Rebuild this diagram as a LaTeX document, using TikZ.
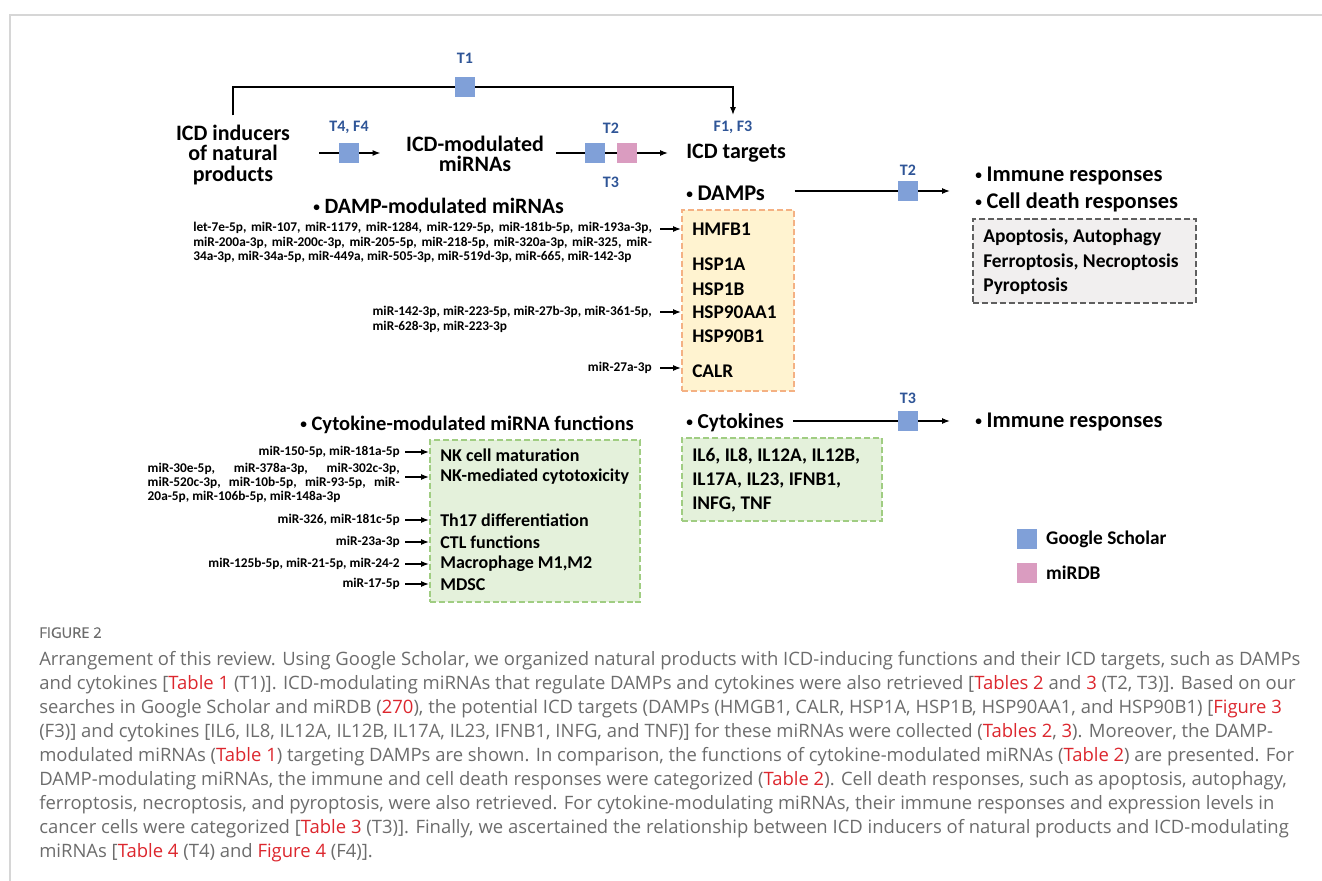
\documentclass[tikz,border=0pt]{standalone}
\usepackage{fontspec}
\setmainfont{Carlito}
\newfontfamily\capfont{Open Sans}
\newfontfamily\capttlfont[FakeBold=0.6]{Open Sans}
\usetikzlibrary{arrows.meta,positioning}
\setlength{\parindent}{0pt}

\definecolor{gsblue}{RGB}{128,160,216}
\definecolor{dbpink}{RGB}{218,156,192}
\definecolor{tblue}{RGB}{47,85,151}
\definecolor{dampdash}{RGB}{244,177,131}
\definecolor{dampfill}{RGB}{255,243,208}
\definecolor{cytodash}{RGB}{160,205,130}
\definecolor{cytofill}{RGB}{228,241,219}
\definecolor{celldash}{RGB}{95,95,95}
\definecolor{cellfill}{RGB}{241,239,239}
\definecolor{capgray}{RGB}{108,108,108}
\definecolor{linkred}{RGB}{220,38,45}
\definecolor{framegray}{RGB}{214,214,214}

\newcommand{\lnk}[1]{\textcolor{linkred}{#1}}
\newcommand{\bul}{\raisebox{1.4pt}{\fontsize{10}{10}\selectfont •}\hspace{3.5pt}}

\begin{document}
\begin{tikzpicture}[x=0.75pt, y=-0.75pt,
		head/.style={font=\bfseries\fontsize{16.5}{15.5}\selectfont, align=center, inner sep=0pt},
		subhead/.style={font=\bfseries\fontsize{#1}{20.25}\selectfont, anchor=west, align=left, inner sep=0pt},
		subhead/.default=15.75,
		item/.style={font=\bfseries\fontsize{14.5}{18}\selectfont, anchor=west, inner sep=0pt},
		func/.style={item, font=\bfseries\fontsize{13.5}{18}\selectfont},
		mirna/.style={font=\bfseries\fontsize{10}{11}\selectfont, inner sep=0pt},
		tlabel/.style={font=\bfseries\fontsize{12}{14}\selectfont, text=tblue, inner sep=0pt},
		gsq/.style={fill=gsblue, minimum size=14.5pt, inner sep=0pt},
		dbsq/.style={gsq, fill=dbpink},
		line/.style={line width=1.1pt},
		conn/.style={line, -{Latex[length=6pt, width=4.6pt]}},
		dashbox/.style={dash pattern=on 4.5pt off 2.2pt, line width=1.5pt, inner sep=0pt},
		dampbox/.style={dashbox, draw=dampdash, fill=dampfill},
		cytobox/.style={dashbox, draw=cytodash, fill=cytofill},
		cellbox/.style={dashbox, draw=celldash, fill=cellfill},
		legtext/.style={font=\bfseries\fontsize{14.5}{16}\selectfont, inner sep=0pt},
		capttl/.style={anchor=north west, inner sep=0pt, text=capgray, font=\capttlfont\fontsize{11}{13}\selectfont},
		captxt/.style={capttl, align=left, font=\capfont\fontsize{13.85}{18}\selectfont},
	]
		\useasboundingbox (0,0) rectangle (1322,881);
		\draw[framegray, line width=1.5pt] (1322,15) -| (10,881);
		
		% stages
		\node[head] (inducers) at (233,155) {ICD inducers\\of natural\\products};
		\node[head] (modmir) at (475,154) {ICD-modulated\\miRNAs};
		\node[head, anchor=west] (targets) at (686,153) {ICD targets};
		\node[tlabel] (f13) at (733,127) {F1, F3};
		
		\node[gsq] (t1sq) at (465,87) {};
		\node[tlabel] (t1) at (465,58) {T1};
		\draw[line, shorten <=7pt] (inducers.north) |- (t1sq);
		\draw[conn, shorten >=4pt] (t1sq) -| (f13.north);
		
		\node[gsq] (t4sq) at (349,153) {};
		\node[tlabel] (t4f4) at (349,127) {T4, F4};
		\draw[line, shorten <=21.75pt] (inducers.east |- t4sq) -- (t4sq);
		\draw[conn, shorten >=19pt] (t4sq) -- (modmir.west |- t4sq);
		
		\node[gsq] (t2sq) at (595,153) {};
		\node[dbsq] (t3sq) at (627,153) {};
		\node[tlabel] (t2) at (611,128) {T2};
		\node[tlabel] (t3) at (611,182) {T3};
		\draw[line, shorten <=9pt] (modmir.east |- t2sq) -- (t2sq);
		\draw[line] (t2sq) -- (t3sq);
		\draw[conn, shorten >=13.5pt] (t3sq) -- (targets.west |- t3sq);
		
		% DAMPs
		\node[subhead=16.4] (dampmir) at (313,206) {\bul DAMP-modulated miRNAs};
		\node[subhead=16.8] (damps) at (686,193) {\bul DAMPs};
		\node[subhead=16.8] (resp) at (975,189.5) {\bul Immune responses\\\bul Cell death responses};
		\node[gsq] (t2sqb) at (908,191) {};
		\node[tlabel] (t2b) at (908,170) {T2};
		\draw[line, shorten <=22pt] (damps.east |- t2sqb) -- (t2sqb);
		\draw[conn, shorten >=18.75pt] (t2sqb) -- (resp.west |- t2sqb);
		
		\node[cellbox, minimum width=167.25pt, minimum height=63pt] (cellbox) at (1084.5,261) {};
		\node[item, align=left, font=\bfseries\fontsize{14.6}{18.4}\selectfont] (celltxt) at (983,262) {Apoptosis, Autophagy\\Ferroptosis, Necroptosis\\Pyroptosis};
		
		\node[dampbox, minimum width=84pt, minimum height=135.75pt] (dampbox) at (738,300.5) {};
		\node[item] (hmfb1) at (692,229) {HMFB1};
		\node[item] (hsp1a) at (692,264) {HSP1A};
		\node[item] (hsp1b) at (692,289) {HSP1B};
		\node[item] (hsp90aa1) at (692,312) {HSP90AA1};
		\node[item] (hsp90b1) at (692,336) {HSP90B1};
		\node[item] (calr) at (692,371) {CALR};
		
		\node[mirna, anchor=north west, text width=344pt, align=justify] (mirdamp1) at (193,222) {let-7e-5p, miR-107, miR-1179, miR-1284, miR-129-5p, miR-181b-5p, miR-193a-3p,\linebreak miR-200a-3p, miR-200c-3p, miR-205-5p, miR-218-5p, miR-320a-3p, miR-325, miR-\linebreak 34a-3p, miR-34a-5p, miR-449a, miR-505-3p, miR-519d-3p, miR-665, miR-142-3p};
		\node[mirna, anchor=north east, align=left] (mirdamp2) at (652,306) {miR-142-3p, miR-223-5p, miR-27b-3p, miR-361-5p,\\miR-628-3p, miR-223-3p};
		\node[mirna, anchor=east] (mirdamp3) at (652,368) {miR-27a-3p};
		\draw[conn, shorten <=6pt] (mirdamp1.east |- hmfb1) -- (dampbox.west |- hmfb1);
		\draw[conn, shorten <=6pt] (mirdamp2.east |- hsp90aa1) -- (dampbox.west |- hsp90aa1);
		\draw[conn, shorten <=6pt] (mirdamp3) -- (dampbox.west |- mirdamp3);
		
		% cytokines
		\node[subhead=15.4] (cytomir) at (300,425) {\bul Cytokine-modulated miRNA functions};
		\node[cytobox, minimum width=157.5pt, minimum height=121.5pt] (funcbox) at (535,521) {};
		\node[func] (nkmat) at (440,455) {NK cell maturation};
		\node[func] (nkcyto) at (440,477) {NK-mediated cytotoxicity};
		\node[func] (th17) at (440,520) {Th17 differentiation};
		\node[func] (ctl) at (440,542) {CTL functions};
		\node[func] (macro) at (440,564) {Macrophage M1,M2};
		\node[func] (mdsc) at (440,585) {MDSC};
		
		\node[mirna, anchor=east] (mircyto1) at (400,452) {miR-150-5p, miR-181a-5p};
		\node[mirna, anchor=north east, text width=189pt, align=justify, font=\bfseries\fontsize{10}{10.5}\selectfont] (mircyto2) at (400,463) {miR-30e-5p, miR-378a-3p, miR-302c-3p,\linebreak miR-520c-3p, miR-10b-5p, miR-93-5p, miR-\linebreak 20a-5p, miR-106b-5p, miR-148a-3p};
		\node[mirna, anchor=east] (mircyto3) at (400,520) {miR-326, miR-181c-5p};
		\node[mirna, anchor=east] (mircyto4) at (400,542) {miR-23a-3p};
		\node[mirna, anchor=east] (mircyto5) at (400,564) {miR-125b-5p, miR-21-5p, miR-24-2};
		\node[mirna, anchor=east] (mircyto6) at (400,584) {miR-17-5p};
		\draw[conn, shorten <=4pt] (mircyto1) -- (funcbox.west |- mircyto1);
		\draw[conn, shorten <=4pt] (mircyto2.east |- nkcyto) -- (funcbox.west |- nkcyto);
		\draw[conn, shorten <=4pt] (mircyto3) -- (funcbox.west |- mircyto3);
		\draw[conn, shorten <=4pt] (mircyto4) -- (funcbox.west |- mircyto4);
		\draw[conn, shorten <=4pt] (mircyto5) -- (funcbox.west |- mircyto5);
		\draw[conn, shorten <=4pt] (mircyto6) -- (funcbox.west |- mircyto6);
		
		\node[subhead=16] (cytokines) at (686,423) {\bul Cytokines};
		\node[subhead=16.8] (immune2) at (975,422) {\bul Immune responses};
		\node[gsq] (t3sqb) at (908,421) {};
		\node[tlabel] (t3b) at (908,398) {T3};
		\draw[line, shorten <=6.5pt] (cytokines.east |- t3sqb) -- (t3sqb);
		\draw[conn, shorten >=18.75pt] (t3sqb) -- (immune2.west |- t3sqb);
		
		\node[cytobox, minimum width=150pt, minimum height=62.25pt] (genebox) at (782,479.5) {};
		\node[item, align=left, font=\bfseries\fontsize{14.5}{18}\selectfont] (genetxt) at (692,480) {IL6, IL8, IL12A, IL12B,\\IL17A, IL23, IFNB1,\\INFG, TNF};
		
		% legend
		\node[gsq] (leggs) at (1027,539) {};
		\node[legtext, right=6.75pt of leggs] (leggstxt) {Google Scholar};
		\node[dbsq] (legdb) at (1027,573) {};
		\node[legtext, right=6.75pt of legdb] (legdbtxt) {miRDB};
		
		% caption
		\node[capttl] (figlbl) at (39,627) {FIGURE 2};
		\node[captxt] (captext) at (39,651) {Arrangement of this review. Using Google Scholar, we organized natural products with ICD-inducing functions and their ICD targets, such as DAMPs\\
			and cytokines [\lnk{Table 1} (T1)]. ICD-modulating miRNAs that regulate DAMPs and cytokines were also retrieved [\lnk{Tables 2} and \lnk{3} (T2, T3)]. Based on our\\
			searches in Google Scholar and miRDB (\lnk{270}), the potential ICD targets (DAMPs (HMGB1, CALR, HSP1A, HSP1B, HSP90AA1, and HSP90B1) [\lnk{Figure 3}\\
			(F3)] and cytokines [IL6, IL8, IL12A, IL12B, IL17A, IL23, IFNB1, INFG, and TNF)] for these miRNAs were collected (\lnk{Tables 2}, \lnk{3}). Moreover, the DAMP-\\
			modulated miRNAs (\lnk{Table 1}) targeting DAMPs are shown. In comparison, the functions of cytokine-modulated miRNAs (\lnk{Table 2}) are presented. For\\
			DAMP-modulating miRNAs, the immune and cell death responses were categorized (\lnk{Table 2}). Cell death responses, such as apoptosis, autophagy,\\
			ferroptosis, necroptosis, and pyroptosis, were also retrieved. For cytokine-modulating miRNAs, their immune responses and expression levels in\\
			cancer cells were categorized [\lnk{Table 3} (T3)]. Finally, we ascertained the relationship between ICD inducers of natural products and ICD-modulating\\
			miRNAs [\lnk{Table 4} (T4) and \lnk{Figure 4} (F4)].};
	\end{tikzpicture}
\end{document}
